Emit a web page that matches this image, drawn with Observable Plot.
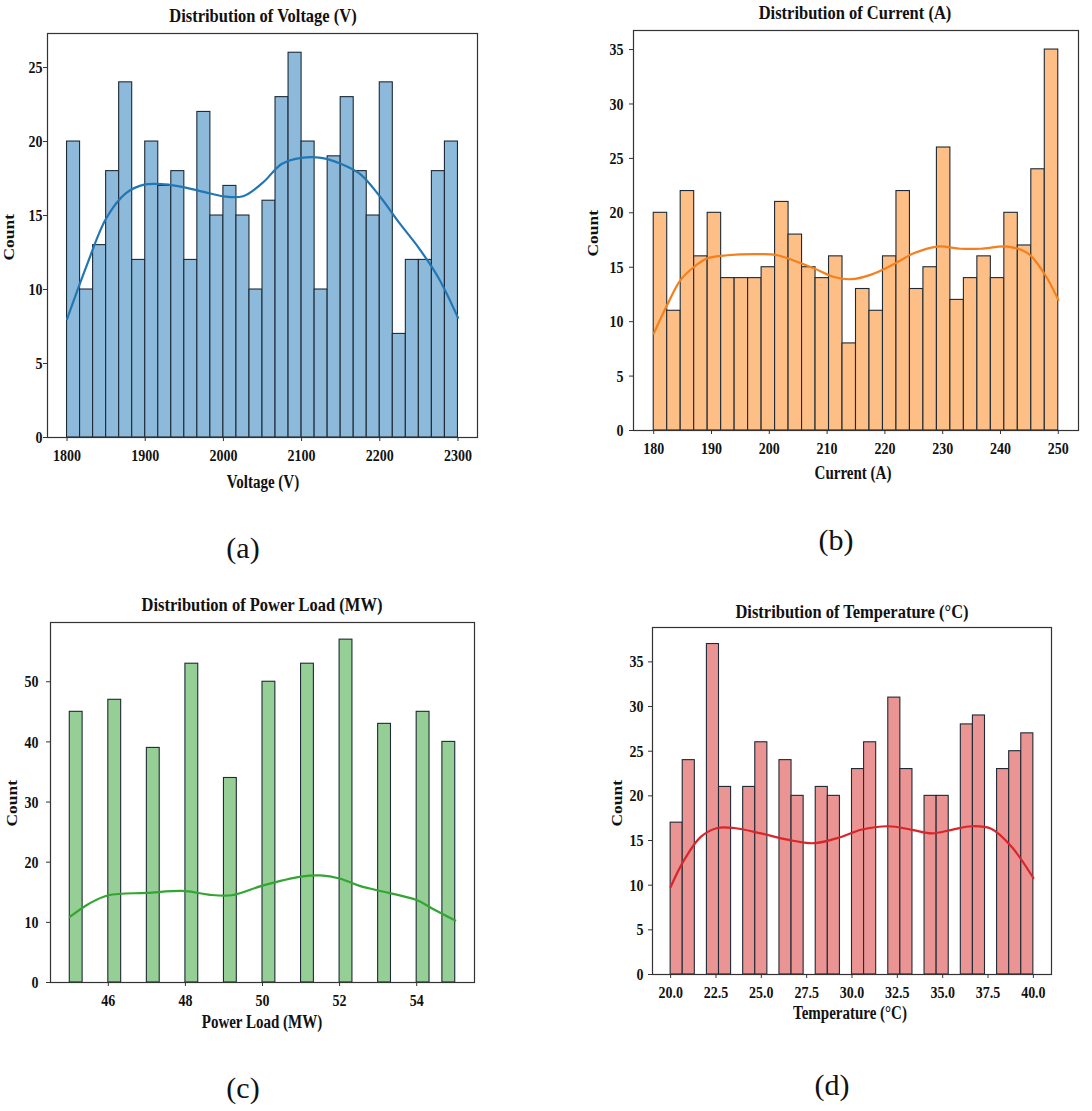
<!DOCTYPE html>
<html>
<head>
<meta charset="utf-8">
<script src="https://cdn.jsdelivr.net/npm/d3@7"></script>
<script src="https://cdn.jsdelivr.net/npm/@observablehq/plot@0.6"></script>
<style>
  html, body { margin: 0; padding: 0; background: #fff; }
  #root { position: relative; width: 1092px; height: 1111px; overflow: hidden; font-family: "Liberation Serif", "Times New Roman", serif; }
  .panel { position: absolute; }
  .txt { position: absolute; white-space: nowrap; color: #111; transform-origin: center center; line-height: 1; }
  .title { font-weight: bold; font-size: 16.5px; }
  .xlab { font-weight: bold; font-size: 15px; }
  .ylab { font-weight: bold; font-size: 14.5px; }
  .tag { font-size: 30px; }
</style>
</head>
<body>
<div id="root"></div>
<script>
// ---------- data ----------
// (a) Voltage: 30 equal bins from 1800 to 2300
const voltageRange = [1800, 2300];
const voltageCounts = [20, 10, 13, 18, 24, 12, 20, 17, 18, 12, 22, 15, 17, 15, 10,
                       16, 23, 26, 20, 10, 19, 23, 18, 15, 24, 7, 12, 12, 18, 20];
const voltageKdeX = [1800, 1825, 1850, 1875, 1900, 1925, 1950, 1975, 2000, 2025, 2050,
                     2075, 2100, 2125, 2150, 2175, 2200, 2225, 2250, 2275, 2300];
const voltageKdeY = [8.0, 11.6, 14.8, 16.5, 17.1, 17.1, 16.9, 16.6, 16.3, 16.3, 17.2,
                     18.5, 18.9, 18.9, 18.5, 17.8, 16.3, 14.5, 12.8, 10.8, 8.1];
const voltageXTicks = [1800, 1900, 2000, 2100, 2200, 2300];
const voltageYTicks = [0, 5, 10, 15, 20, 25];

// (b) Current: 30 equal bins from 180 to 250
const currentRange = [180, 250];
const currentCounts = [20, 11, 22, 16, 20, 14, 14, 14, 15, 21, 18, 15, 14, 16, 8,
                       13, 11, 16, 22, 13, 15, 26, 12, 14, 16, 14, 20, 17, 24, 35];
const currentKdeX = [180, 182.3, 184.6, 186.9, 189.2, 192.7, 198.5, 201.4, 204.3, 207.7, 211.2,
                     214.1, 217.5, 221.6, 225.1, 229.1, 233.1, 236.6, 241.2, 244.7, 247.6, 250];
const currentKdeY = [8.9, 11.5, 13.8, 15.0, 15.8, 16.1, 16.2, 16.1, 15.6, 14.9, 14.1,
                     13.9, 14.3, 15.3, 16.3, 16.9, 16.7, 16.7, 16.9, 16.3, 14.4, 12.0];
const currentXTicks = [180, 190, 200, 210, 220, 230, 240, 250];
const currentYTicks = [0, 5, 10, 15, 20, 25, 30, 35];

// (c) Power load: integer values, 30 bins from 45 to 55
const powerRange = [45, 55];
const powerValues = [45, 46, 47, 48, 49, 50, 51, 52, 53, 54, 55];
const powerCounts = [45, 47, 39, 53, 34, 50, 53, 57, 43, 45, 40];
const powerKdeX = [45, 45.5, 46, 47, 48, 48.6, 49.2, 50, 51, 51.5, 52, 52.5, 53, 54, 54.4, 55];
const powerKdeY = [10.9, 13.1, 14.5, 14.9, 15.2, 14.6, 14.5, 16.1, 17.6, 17.8, 17.3, 16.1, 15.3, 13.7, 12.3, 10.3];
const powerXTicks = [46, 48, 50, 52, 54];
const powerYTicks = [0, 10, 20, 30, 40, 50];

// (d) Temperature: integer values, 30 bins from 20 to 40
const tempRange = [20, 40];
const tempValues = [20, 21, 22, 23, 24, 25, 26, 27, 28, 29, 30, 31, 32, 33, 34, 35, 36, 37, 38, 39, 40];
const tempCounts = [17, 24, 37, 21, 21, 26, 24, 20, 21, 20, 23, 26, 31, 23, 20, 20, 28, 29, 23, 25, 27];
const tempKdeX = [20, 20.74, 21.66, 22.58, 23.5, 24.98, 26.45, 27.9, 29.4, 30.5, 32, 33.3, 34.4, 35.5, 36.6, 37.7, 38.8, 40];
const tempKdeY = [9.8, 12.8, 15.4, 16.4, 16.4, 15.8, 15.1, 14.7, 15.4, 16.2, 16.6, 16.2, 15.8, 16.2, 16.6, 16.3, 14.3, 10.8];
const tempXTicks = [20, 22.5, 25, 27.5, 30, 32.5, 35, 37.5, 40];
const tempYTicks = [0, 5, 10, 15, 20, 25, 30, 35];

// ---------- helpers ----------
const NBINS = 30;
function binsFromCounts(range, counts) {
  const w = (range[1] - range[0]) / NBINS;
  return counts.map((c, i) => ({x1: range[0] + i * w, x2: range[0] + (i + 1) * w, count: c}));
}
function binsFromValues(range, values, counts) {
  const w = (range[1] - range[0]) / NBINS;
  return values.map((v, i) => {
    const k = Math.min(NBINS - 1, Math.floor((v - range[0]) / w + 1e-9));
    return {x1: range[0] + k * w, x2: range[0] + (k + 1) * w, count: counts[i]};
  });
}
function pad(range, f) { const d = (range[1] - range[0]) * f; return [range[0] - d, range[1] + d]; }

const root = document.getElementById("root");
function addText(cls, text, cx, cy, extra) {
  const el = document.createElement("div");
  el.className = "txt " + cls;
  el.textContent = text;
  root.appendChild(el);
  const r = el.getBoundingClientRect();
  el.style.left = (cx - r.width / 2) + "px";
  el.style.top = (cy - r.height / 2) + "px";
  if (extra) el.style.transform = extra;
  return el;
}

function panel(o) {
  const div = document.createElement("div");
  div.className = "panel";
  div.style.left = o.left + "px";
  div.style.top = o.top + "px";
  root.appendChild(div);
  const maxCount = d3.max(o.bins, d => d.count);
  const chart = Plot.plot({
    width: o.width, height: o.height,
    marginLeft: o.m[0], marginRight: o.m[1], marginTop: o.m[2], marginBottom: o.m[3],
    style: {fontFamily: "Liberation Serif, Times New Roman, serif", fontSize: "14px", fontWeight: "bold", color: "#111", background: "transparent"},
    x: {domain: pad(o.range, 0.05)},
    y: {domain: [0, maxCount * 1.05]},
    marks: [
      Plot.rectY(o.bins, {x1: "x1", x2: "x2", y1: 0, y2: "count", fill: o.fill, stroke: "#1e2a36", strokeWidth: 1.1}),
      Plot.line(o.kdeX.map((x, i) => ({x, y: o.kdeY[i]})), {x: "x", y: "y", stroke: o.line, strokeWidth: 2.2, curve: "catmull-rom"}),
      Plot.axisX({ticks: o.xTicks, tickFormat: o.xFormat || (d => String(d)), tickSize: 4, tickPadding: 7, label: null, fontWeight: "bold", fontSize: 14, stroke: "#333"}),
      Plot.axisY({ticks: o.yTicks, tickFormat: d => String(d), tickSize: 4, tickPadding: o.yPad, label: null, fontWeight: "bold", fontSize: 14, stroke: "#333"}),
      Plot.frame({stroke: "#333", strokeWidth: 1.2})
    ]
  });
  // stretch tick labels vertically like the reference
  chart.querySelectorAll("g[aria-label='x-axis tick label'] text, g[aria-label='y-axis tick label'] text").forEach(t => {
    const tr = t.getAttribute("transform") || "";
    t.setAttribute("transform", tr + " scale(1,1.25)");
  });
  div.appendChild(chart);
}

// ---------- panels ----------
panel({left: 0, top: 0, width: 490, height: 500, m: [47, 13, 33, 63],
  range: voltageRange, bins: binsFromCounts(voltageRange, voltageCounts),
  kdeX: voltageKdeX, kdeY: voltageKdeY, xTicks: voltageXTicks, yTicks: voltageYTicks,
  fill: "#8dbadb", line: "#2177b3", yPad: 1});
panel({left: 560, top: 0, width: 532, height: 500, m: [73, 14, 30, 70],
  range: currentRange, bins: binsFromCounts(currentRange, currentCounts),
  kdeX: currentKdeX, kdeY: currentKdeY, xTicks: currentXTicks, yTicks: currentYTicks,
  fill: "#fdbf86", line: "#f57f1a", yPad: 6});
panel({left: 0, top: 570, width: 490, height: 500, m: [50, 16, 52, 88],
  range: powerRange, bins: binsFromValues(powerRange, powerValues, powerCounts),
  kdeX: powerKdeX, kdeY: powerKdeY, xTicks: powerXTicks, yTicks: powerYTicks,
  fill: "#96cf95", line: "#32a532", yPad: 8});
panel({left: 560, top: 570, width: 532, height: 500, m: [92, 41, 57, 96],
  range: tempRange, bins: binsFromValues(tempRange, tempValues, tempCounts),
  kdeX: tempKdeX, kdeY: tempKdeY, xTicks: tempXTicks, yTicks: tempYTicks, xFormat: d3.format(".1f"),
  fill: "#ea9494", line: "#d8262a", yPad: 5});

// ---------- texts ----------
const sy = "scaleY(1.2)";
addText("title", "Distribution of Voltage (V)", 263, 16, sy);
addText("title", "Distribution of Current (A)", 855, 13, sy);
addText("title", "Distribution of Power Load (MW)", 262, 605, sy);
addText("title", "Distribution of Temperature (°C)", 852, 612, sy);

addText("xlab", "Voltage (V)", 263, 482, "scaleY(1.25)");
addText("xlab", "Current (A)", 853, 473, "scaleY(1.25)");
addText("xlab", "Power Load (MW)", 262, 1022, "scaleY(1.25)");
addText("xlab", "Temperature (°C)", 850, 1013, "scaleY(1.25)");

const yr = "rotate(-90deg) scaleX(1.2)";
addText("ylab", "Count", 9, 237, yr);
addText("ylab", "Count", 593, 233, yr);
addText("ylab", "Count", 12, 803, yr);
addText("ylab", "Count", 617, 803, yr);

addText("tag", "(a)", 243, 548);
addText("tag", "(b)", 836, 540);
addText("tag", "(c)", 243, 1088);
addText("tag", "(d)", 832, 1085);
</script>
</body>
</html>
